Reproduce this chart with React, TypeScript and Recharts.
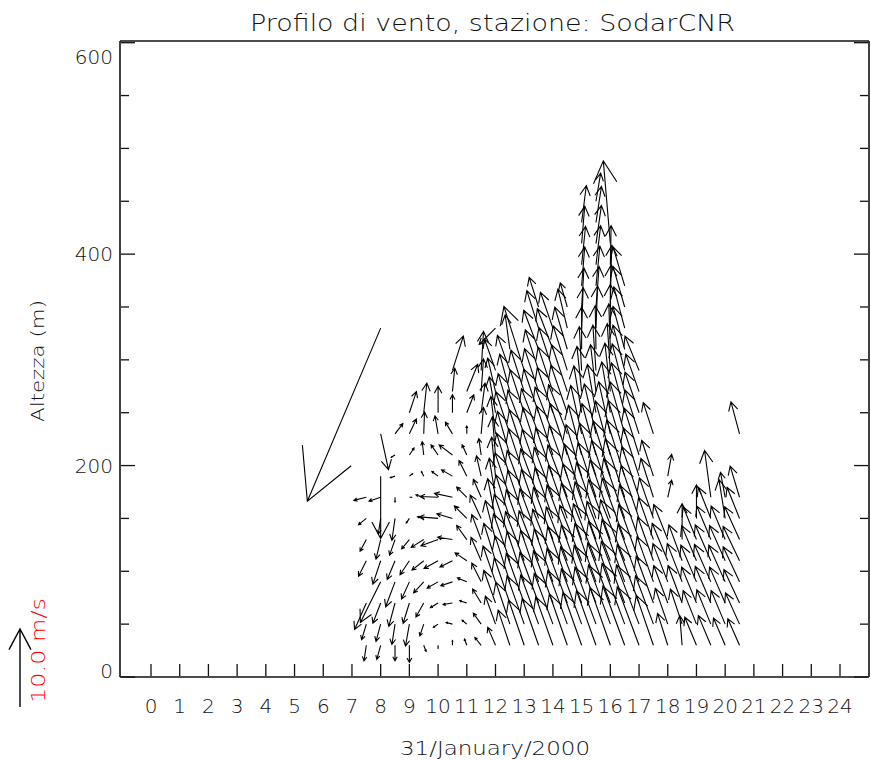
import React from 'react';
import { ScatterChart, Scatter, XAxis, YAxis } from 'recharts';

type Vec = [number, number] | null;

// half-hour sodar profiles, 31 January 2000
const hours = [7.5, 8, 8.5, 9, 9.5, 10, 10.5, 11, 11.5, 12, 12.5, 13, 13.5, 14, 14.5, 15, 15.5, 16, 16.5, 17, 17.5, 18, 18.5, 19, 19.5, 20, 20.5];
const levels = [30, 50, 70, 90, 110, 130, 150, 170, 190, 210, 230, 250, 270, 290, 310, 330, 350, 370, 390, 410, 430, 450, 470, 490];
const hourTicks = [0, 1, 2, 3, 4, 5, 6, 7, 8, 9, 10, 11, 12, 13, 14, 15, 16, 17, 18, 19, 20, 21, 22, 23, 24];
const heightTicks = [0, 50, 100, 150, 200, 250, 300, 350, 400, 450, 500, 550, 600];
const heightLabels = [0, 200, 400, 600];

// [u, v] in m/s, from 30 m upward every 20 m
const c0730: Vec[] = [[-0.3, -2.0], [-0.6, -2.0], [-1.5, -3.4], null, [-1.0, -2.0], [-0.8, -1.5], [-1.0, -0.8], [-1.6, -0.4]];
const c0800: Vec[] = [[-0.5, -1.8], [-0.6, -2.2], [-1.0, -2.6], [-2.6, -5.2], [-1.0, -3.0], [-0.6, -2.5], [-0.3, -2.0], [-1.5, -0.5], [0.0, -8.0], null, [1.0, -4.6], null, null, null, null, [-9.4, -22.2]];
const c0830: Vec[] = [[0.0, -2.0], [-0.4, -2.6], [-0.8, -3.0], [-1.2, -3.2], [-1.0, -2.4], [-0.7, -2.0], [-0.4, -2.8], [0.0, -0.6], [-0.6, -0.2], [-0.5, -0.3], [1.0, 1.3]];
const c0900: Vec[] = [[0.0, -2.2], [-0.5, -2.8], [-0.8, -2.6], [-1.0, -2.2], [-1.2, -1.8], [-1.0, -1.2], [-0.4, -0.6], [0.3, 0.0], [0.4, 0.3], [0.6, 0.9], [0.9, 1.9], [0.9, 2.7]];
const c0930: Vec[] = [[0.3, -0.8], [-0.5, -1.5], [-1.0, -1.8], [-1.3, -1.4], [-1.5, -1.2], [-1.6, -1.0], [-0.8, 0.2], [-1.0, 0.3], [-0.3, 0.6], [-0.2, 1.7], [0.1, 2.8], [0.4, 3.8]];
const c1000: Vec[] = [[0.0, -0.4], [-0.6, -0.4], [-1.0, -0.6], [-1.4, -0.8], [-1.8, -1.0], [-2.2, -0.8], [-2.4, 0.2], [-2.3, 0.1], [-0.8, 0.6], [-0.9, 1.3], [-0.4, 2.3], [0.0, 3.4]];
const c1030: Vec[] = [[0.0, 0.6], [-0.8, 0.2], [-1.2, -0.2], [-1.5, -0.5], [-1.6, -0.8], [-1.9, 0.3], [-2.0, 0.6], [-2.3, 0.5], [-1.4, 0.8], [-1.7, 1.3], [-0.9, 1.5], [0.0, 2.3], [0.3, 3.0], [1.4, 4.4]];
const c1100: Vec[] = [[-0.3, 0.8], [-0.6, 0.5], [-0.9, 0.3], [-1.2, 0.5], [-1.5, 1.0], [-1.3, 1.8], [-1.6, 1.6], [-1.3, 1.3], [-1.0, 2.0], [-0.6, 1.3], [0.0, 1.0], [0.9, 2.3], [1.4, 3.5]];
const c1130: Vec[] = [[-0.8, 1.0], [-1.0, 1.4], [-1.1, 1.8], [-1.2, 2.4], [-1.3, 3.0], [-1.2, 3.2], [-1.4, 3.0], [-1.0, 2.3], [-0.6, 2.6], [-0.3, 2.1], [0.3, 3.4], [0.5, 3.8], [0.3, 4.2], [0.3, 5.0]];
const c1200: Vec[] = [[-1.0, 2.3], [-1.3, 3.6], [-1.5, 4.2], [-1.6, 4.6], [-1.5, 4.8], [-1.3, 5.0], [-1.0, 5.1], [-0.8, 5.0], [-0.5, 5.0], [-0.4, 4.9], [-0.6, 4.8], [-0.8, 4.6], [-1.0, 4.3], [-1.4, 4.0], null, [-2.1, -2.1]];
const c1230: Vec[] = [[-1.5, 4.5], [-1.8, 5.4], [-2.0, 5.8], [-1.9, 5.9], [-2.1, 6.0], [-2.0, 5.8], [-1.8, 5.6], [-1.9, 5.7], [-1.7, 5.5], [-1.6, 5.6], [-1.8, 5.4], [-1.5, 5.0], [-1.3, 4.8], [-1.6, 4.5], [-0.6, 4.4]];
const c1300: Vec[] = [[-2.0, 5.8], [-2.2, 6.2], [-2.3, 6.4], [-2.2, 6.5], [-2.4, 6.3], [-2.3, 6.4], [-2.1, 6.2], [-2.2, 6.0], [-2.0, 6.1], [-1.9, 5.8], [-2.1, 5.6], [-1.8, 5.5], [-1.7, 5.3], [-2.6, 8.2]];
const c1330: Vec[] = [[-2.1, 6.0], [-2.3, 6.3], [-2.4, 6.5], [-2.3, 6.6], [-2.5, 6.4], [-2.4, 6.5], [-2.2, 6.3], [-2.3, 6.2], [-2.1, 6.0], [-2.0, 6.1], [-2.2, 5.8], [-1.9, 5.6], [-1.8, 5.5], [-1.7, 5.2], [-1.9, 5.0], [-1.5, 4.8], [-1.2, 3.8]];
const c1400: Vec[] = [[-2.2, 6.2], [-2.4, 6.5], [-2.5, 6.7], [-2.4, 6.8], [-2.6, 6.6], [-2.5, 6.7], [-2.3, 6.5], [-2.4, 6.4], [-2.2, 6.2], [-2.1, 6.3], [-2.3, 6.0], [-2.0, 5.8], [-1.9, 5.7], [-1.8, 5.5], [-2.0, 5.2], [-1.6, 4.6]];
const c1430: Vec[] = [[-2.3, 6.6], [-2.5, 6.9], [-2.6, 7.0], [-2.5, 7.1], [-2.7, 6.9], [-2.6, 7.0], [-2.4, 6.8], [-2.5, 6.7], [-2.3, 6.5], [-2.2, 6.6], [-2.4, 6.3], [-2.1, 6.1], [-2.0, 6.0], [-1.8, 5.7], [-1.6, 5.4], [-1.2, 5.0], [-0.9, 3.1]];
const c1500: Vec[] = [[-2.4, 6.8], [-2.6, 7.1], [-2.7, 7.2], [-2.6, 7.3], [-2.8, 7.1], [-2.6, 7.2], [-2.4, 7.0], [-2.2, 6.8], [-2.0, 6.6], [-1.7, 6.4], [-1.4, 6.2], [-1.0, 6.0], [-0.6, 5.8], [-0.3, 5.6], [0.0, 5.4], [0.2, 5.2], [0.3, 5.0], [0.4, 5.0], [0.5, 4.9], [0.4, 4.8], [0.6, 4.7]];
const c1530: Vec[] = [[-2.5, 7.0], [-2.7, 7.3], [-2.8, 7.4], [-2.7, 7.5], [-2.9, 7.3], [-2.7, 7.4], [-2.5, 7.2], [-2.3, 7.0], [-2.1, 6.8], [-1.8, 6.6], [-1.5, 6.4], [-1.1, 6.2], [-0.7, 6.0], [-0.4, 5.8], [-0.1, 5.6], [0.2, 5.4], [0.4, 5.2], [0.5, 5.1], [0.6, 5.0], [0.7, 4.9], [0.7, 4.6], [0.6, 3.6]];
const c1600: Vec[] = [[-2.6, 7.4], [-2.8, 7.6], [-2.9, 7.7], [-2.8, 7.8], [-3.0, 7.6], [-2.8, 7.7], [-2.6, 7.5], [-2.4, 7.3], [-2.2, 7.1], [-1.9, 6.9], [-1.5, 6.7], [-1.1, 6.5], [-0.7, 6.2], [-0.4, 6.0], [-0.2, 5.8], [0.0, 5.6], [0.1, 5.4], [0.2, 5.2], [0.1, 5.0], [-0.9, 10.6]];
const c1630: Vec[] = [[-2.8, 7.6], [-2.9, 7.8], [-3.0, 7.9], [-2.9, 8.0], [-3.1, 7.8], [-2.9, 7.9], [-2.7, 7.7], [-2.5, 7.5], [-2.3, 7.2], [-2.1, 7.0], [-1.9, 6.7], [-1.7, 6.4], [-1.6, 6.1], [-1.5, 5.8], [-1.5, 5.5], [-1.4, 5.3], [-1.5, 5.2], [-1.5, 5.0]];
const c1700: Vec[] = [[-2.8, 7.5], [-2.9, 7.6], [-2.8, 7.5], [-2.7, 7.4], [-2.6, 7.2], [-2.5, 7.0], [-2.3, 6.8], [-2.2, 6.5], [-2.0, 6.2], [-1.9, 6.0], [-1.8, 5.6], [-1.8, 5.2], [-1.7, 4.8], [-1.8, 4.4]];
const c1730: Vec[] = [[-2.2, 6.4], [-2.3, 6.2], [-2.2, 6.0], [-2.1, 5.8], [-2.0, 5.6], [-1.9, 5.4], [-1.8, 5.2], [-1.6, 5.0], [-1.5, 4.6], null, [-1.3, 4.0]];
const c1800: Vec[] = [[-1.3, 4.1], [-1.6, 4.6], [-1.8, 4.8], [-1.9, 4.9], [-2.0, 4.8], [-1.8, 4.5], null, [0.5, 2.2], [0.5, 2.8]];
const c1830: Vec[] = [[-0.3, 3.8], [-1.5, 4.5], [-1.8, 4.8], [-1.9, 4.9], [-1.7, 4.6], [0.0, 4.6]];
const c1900: Vec[] = [[-1.5, 3.6], [-1.7, 4.3], [-1.9, 4.6], [-2.0, 4.7], [-1.9, 4.5], [-1.7, 4.2], [0.0, 4.3]];
const c1930: Vec[] = [[-1.6, 3.8], [-1.8, 4.4], [-2.0, 4.7], [-2.1, 4.8], [-2.0, 4.6], [-1.8, 4.3], [-1.6, 4.0], [-0.8, 6.0]];
const c2000: Vec[] = [[-1.5, 3.5], [-1.8, 4.3], [-2.0, 4.6], [-2.1, 4.7], [-2.0, 4.5], [-1.8, 4.3], [-0.8, 5.0], [-0.6, 3.2]];
const c2030: Vec[] = [[-1.5, 3.4], [-1.8, 4.0], [-2.0, 4.3], [-2.1, 4.5], [-2.1, 4.4], [-1.9, 4.2], [-1.6, 4.0], [-1.2, 4.0], null, null, [-1.1, 4.1]];

const profiles: Vec[][] = [
  c0730, c0800, c0830, c0900, c0930, c1000, c1030, c1100, c1130, c1200, c1230, c1300, c1330, c1400,
  c1430, c1500, c1530, c1600, c1630, c1700, c1730, c1800, c1830, c1900, c1930, c2000, c2030
];

const PX_PER_MS = 7.8; // legend arrow: 10 m/s
const HEAD_FRAC = 0.3;
const HEAD_ANGLE = (28 * Math.PI) / 180;
const FONT = '"DejaVu Sans", Verdana, sans-serif';
const INK = '#111';
const TEXT = '#111';

const points = hours.flatMap((hour, i) =>
  profiles[i].flatMap((vec, j) => (vec ? [{ hour, height: levels[j], u: vec[0], v: vec[1] }] : []))
);

function arrowPath(x: number, y: number, dx: number, dy: number) {
  const x2 = x + dx;
  const y2 = y + dy;
  const h = Math.hypot(dx, dy) * HEAD_FRAC;
  const back = Math.atan2(-dy, -dx);
  const ax = x2 + h * Math.cos(back - HEAD_ANGLE);
  const ay = y2 + h * Math.sin(back - HEAD_ANGLE);
  const bx = x2 + h * Math.cos(back + HEAD_ANGLE);
  const by = y2 + h * Math.sin(back + HEAD_ANGLE);
  return `M${x},${y}L${x2},${y2}M${ax},${ay}L${x2},${y2}L${bx},${by}`;
}

const WindArrow = (props: any) => {
  const { cx, cy } = props;
  const p = props.payload || props;
  if (cx == null || cy == null) return <g />;
  return <path d={arrowPath(cx, cy, p.u * PX_PER_MS, -p.v * PX_PER_MS)} stroke="#000" strokeWidth={1.1} fill="none" />;
};

// axes are 1px thick bands, ticks are drawn inward by hand
const BottomTick = ({ x, y, payload }: any) => (
  <g>
    <line x1={x} y1={y - 1} x2={x} y2={y - 13} stroke={INK} strokeWidth={1.3} />
    <text x={x} y={y + 36} textAnchor="middle" fontFamily={FONT} fontWeight={200} fontSize={20} fill={TEXT}>
      {payload.value}
    </text>
  </g>
);

const TopTick = ({ x, y }: any) => <line x1={x} y1={y + 1} x2={x} y2={y + 13} stroke={INK} strokeWidth={1.3} />;

const LeftTick = ({ x, y, payload }: any) => {
  const major = heightLabels.includes(payload.value);
  const shift = payload.value === 600 ? 14 : payload.value === 0 ? -6 : 0;
  return (
    <g>
      <line x1={x + 1} y1={y} x2={x + 1 + (major ? 14 : 8)} y2={y} stroke={INK} strokeWidth={1.3} />
      {major && (
        <text x={x - 7} y={y + 7 + shift} textAnchor="end" fontFamily={FONT} fontWeight={200} fontSize={20} fill={TEXT}>
          {payload.value}
        </text>
      )}
    </g>
  );
};

const RightTick = ({ x, y, payload }: any) => {
  const major = heightLabels.includes(payload.value);
  return <line x1={x - 1} y1={y} x2={x - 1 - (major ? 14 : 8)} y2={y} stroke={INK} strokeWidth={1.3} />;
};

export default function App() {
  const xDomain: [number, number] = [-1.08, 25.01];
  const yDomain: [number, number] = [0, 601.6];
  const axisLine = { stroke: INK, strokeWidth: 1.6 };
  return (
    <div style={{ position: 'absolute', left: 0, top: 0, width: 871, height: 760, background: '#fff' }}>
      <ScatterChart width={871} height={760} margin={{ top: 40, right: 1, bottom: 82, left: 119 }}>
        <XAxis
          dataKey="hour"
          type="number"
          domain={xDomain}
          ticks={hourTicks}
          interval={0}
          allowDataOverflow
          height={1}
          tickSize={0}
          tickMargin={0}
          tickLine={false}
          axisLine={axisLine}
          tick={BottomTick}
        />
        <XAxis
          xAxisId="top"
          orientation="top"
          type="number"
          domain={xDomain}
          ticks={hourTicks}
          interval={0}
          allowDataOverflow
          height={1}
          tickSize={0}
          tickMargin={0}
          tickLine={false}
          axisLine={axisLine}
          tick={TopTick}
        />
        <YAxis
          dataKey="height"
          type="number"
          domain={yDomain}
          ticks={heightTicks}
          interval={0}
          allowDataOverflow
          width={1}
          tickSize={0}
          tickMargin={0}
          tickLine={false}
          axisLine={axisLine}
          tick={LeftTick}
        />
        <YAxis
          yAxisId="right"
          orientation="right"
          type="number"
          domain={yDomain}
          ticks={heightTicks}
          interval={0}
          allowDataOverflow
          width={1}
          tickSize={0}
          tickMargin={0}
          tickLine={false}
          axisLine={axisLine}
          tick={RightTick}
        />
        <Scatter data={points} shape={WindArrow} isAnimationActive={false} />
      </ScatterChart>
      <svg width={871} height={760} style={{ position: 'absolute', left: 0, top: 0, pointerEvents: 'none' }}>
        <text x={492.5} y={31} textAnchor="middle" fontFamily={FONT} fontWeight={200} fontSize={23} fill={TEXT} textLength={485} lengthAdjust="spacingAndGlyphs">
          Profilo di vento, stazione: SodarCNR
        </text>
        <text x={495} y={755} textAnchor="middle" fontFamily={FONT} fontWeight={200} fontSize={20} fill={TEXT} textLength={190} lengthAdjust="spacingAndGlyphs">
          31/January/2000
        </text>
        <text x={44} y={361} transform="rotate(-90 44 361)" textAnchor="middle" fontFamily={FONT} fontWeight={200} fontSize={18} fill={TEXT} textLength={122} lengthAdjust="spacingAndGlyphs">
          Altezza (m)
        </text>
        <path d={arrowPath(20, 707, 0, -10 * PX_PER_MS)} stroke="#000" strokeWidth={1.4} fill="none" />
        <text x={45} y={650.5} transform="rotate(-90 45 650.5)" textAnchor="middle" fontFamily={FONT} fontWeight={200} fontSize={20} fill="#ff0000" textLength={105} lengthAdjust="spacingAndGlyphs">
          10.0 m/s
        </text>
      </svg>
    </div>
  );
}
